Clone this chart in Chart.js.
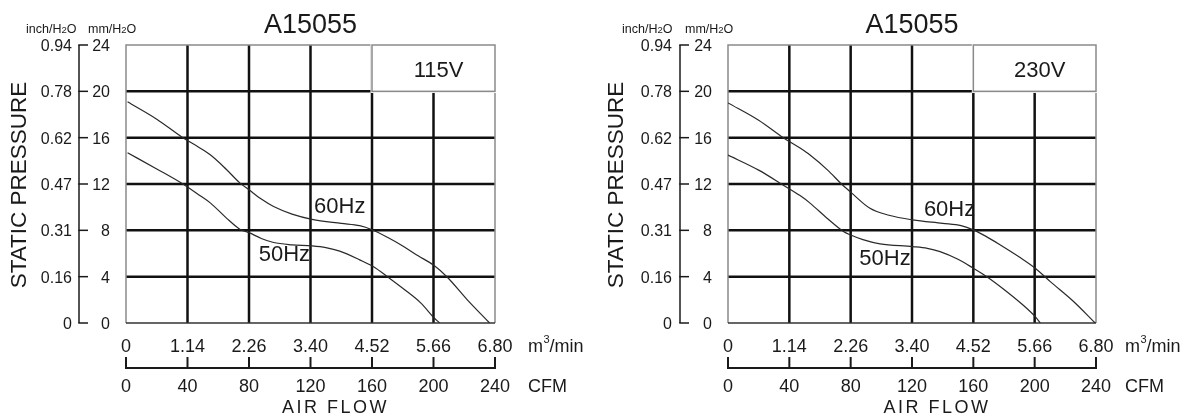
<!DOCTYPE html>
<html><head><meta charset="utf-8">
<script src="https://cdn.jsdelivr.net/npm/chart.js@4/dist/chart.umd.min.js"></script>
<style>
html,body{margin:0;padding:0;background:#fff;}
#wrap{position:relative;width:1200px;height:418px;overflow:hidden;}
.c{position:absolute;top:0;width:600px;height:418px;}
</style></head>
<body><div id="wrap"><div class="c" style="left:0"><canvas id="c1" width="600" height="418"></canvas></div><div class="c" style="left:600px"><canvas id="c2" width="600" height="418"></canvas></div></div>
<script>
const chartTitle = 'A15055';
const voltages = ['115V', '230V'];
const seriesNames = ['60Hz', '50Hz'];
const cfmTicks = [0, 40, 80, 120, 160, 200, 240];
const m3Labels = ['0', '1.14', '2.26', '3.40', '4.52', '5.66', '6.80'];
const mmTicks = [0, 4, 8, 12, 16, 20, 24];
const inchLabels = ['0', '0.16', '0.31', '0.47', '0.62', '0.78', '0.94'];

// 115V chart (CFM, mmH2O)
const flow60_115 = [1, 20, 37, 47, 55, 65, 74, 80, 88, 96, 108, 121, 140, 152, 160, 170, 180, 190, 200, 209, 222, 236.5];
const press60_115 = [19.1, 17.6, 16.0, 15.2, 14.5, 13.3, 12.1, 11.5, 10.7, 10.05, 9.4, 8.95, 8.6, 8.4, 8.05, 7.4, 6.65, 5.8, 5.0, 3.95, 2.0, 0];
const flow50_115 = [1, 20, 37, 47, 55, 65, 74, 80, 88, 96, 108, 121, 130, 139, 152, 161, 170, 180, 192, 200, 204];
const press50_115 = [14.7, 13.3, 12.0, 11.1, 10.35, 9.1, 8.1, 7.8, 7.3, 6.95, 6.75, 6.65, 6.5, 6.2, 5.45, 4.85, 4.0, 3.0, 1.7, 0.5, 0];
// 230V chart
const flow60_230 = [0, 20, 36, 47, 53.5, 65, 74, 80, 92.6, 105, 120.5, 140, 152, 160, 168, 177.6, 190, 200.4, 210.2, 225, 239.5];
const press60_230 = [19.0, 17.5, 16.0, 15.1, 14.5, 13.2, 12.0, 11.3, 9.9, 9.3, 8.9, 8.6, 8.4, 8.04, 7.5, 6.74, 5.7, 4.73, 3.57, 1.9, 0];
const flow50_230 = [0, 20, 36.1, 47, 53.5, 65, 75.3, 80, 88, 99.2, 120.5, 130, 138.3, 150, 160, 168.8, 180, 192, 200.4, 203.7];
const press50_230 = [14.5, 13.2, 11.9, 11.0, 10.35, 9.0, 7.9, 7.6, 7.2, 6.83, 6.6, 6.45, 6.16, 5.5, 4.73, 4.0, 2.9, 1.6, 0.55, 0];

const FONT = '"Liberation Sans", Arial, Helvetica, sans-serif';
const TXT = '#1a1a1a';

function pts(xs, ys) { return xs.map((v, i) => ({x: v, y: ys[i]})); }

const fanPlugin = {
  id: 'fanPlugin',
  beforeDatasetsDraw(chart, args, o) {
    const {ctx, scales: {x, y}} = chart;
    const L = x.getPixelForValue(0), R = x.getPixelForValue(240);
    const T = y.getPixelForValue(24), B = y.getPixelForValue(0);
    ctx.save();
    ctx.strokeStyle = '#111'; ctx.lineWidth = 2.5;
    cfmTicks.forEach(v => {
      if (v === 0 || v === 240) return;
      const px = x.getPixelForValue(v);
      ctx.beginPath(); ctx.moveTo(px, T); ctx.lineTo(px, B); ctx.stroke();
    });
    mmTicks.forEach(v => {
      if (v === 0 || v === 24) return;
      const py = y.getPixelForValue(v);
      ctx.beginPath(); ctx.moveTo(L, py); ctx.lineTo(R, py); ctx.stroke();
    });
    ctx.strokeStyle = '#8a8a8a'; ctx.lineWidth = 1.5;
    ctx.beginPath(); ctx.moveTo(L, B); ctx.lineTo(L, T); ctx.lineTo(R, T); ctx.lineTo(R, B); ctx.stroke();
    ctx.strokeStyle = '#333'; ctx.lineWidth = 1.3;
    ctx.beginPath(); ctx.moveTo(L, B); ctx.lineTo(R, B); ctx.stroke();
    ctx.restore();
  },
  afterDatasetsDraw(chart, args, o) {
    const {ctx, scales: {x, y}} = chart;
    const bx1 = x.getPixelForValue(160), bx2 = x.getPixelForValue(240);
    const by1 = y.getPixelForValue(24), by2 = y.getPixelForValue(20);
    ctx.save();
    ctx.fillStyle = '#fff';
    ctx.fillRect(bx1 - 1.5, by1 - 1, bx2 - bx1 + 2.5, by2 - by1 + 2.6);
    ctx.strokeStyle = '#8a8a8a'; ctx.lineWidth = 1.5;
    ctx.strokeRect(bx1, by1, bx2 - bx1, by2 - by1);
    ctx.fillStyle = TXT;
    ctx.font = '22px ' + FONT;
    ctx.textAlign = 'center'; ctx.textBaseline = 'middle';
    ctx.fillText(o.voltage, (bx1 + bx2) / 2 + 5, (by1 + by2) / 2 + 3);
    o.seriesLabels.forEach((s, i) => {
      ctx.fillText(seriesNames[i], x.getPixelForValue(s[0]), y.getPixelForValue(s[1]));
    });
    ctx.restore();
  },
  afterDraw(chart, args, o) {
    const {ctx, scales: {x, y}} = chart;
    const L = x.getPixelForValue(0), R = x.getPixelForValue(240);
    const T = y.getPixelForValue(24), B = y.getPixelForValue(0);
    ctx.save();
    ctx.fillStyle = TXT; ctx.strokeStyle = '#1a1a1a';
    ctx.font = '27px ' + FONT; ctx.textAlign = 'center'; ctx.textBaseline = 'middle';
    ctx.fillText(chartTitle, (L + R) / 2, 26);
    function h2o(prefix, x0, yb) {
      ctx.textAlign = 'left'; ctx.textBaseline = 'alphabetic';
      ctx.font = '12.5px ' + FONT;
      ctx.fillText(prefix + 'H', x0, yb);
      let w = ctx.measureText(prefix + 'H').width;
      ctx.font = '9.5px ' + FONT;
      ctx.fillText('2', x0 + w, yb);
      w += ctx.measureText('2').width;
      ctx.font = '12.5px ' + FONT;
      ctx.fillText('O', x0 + w, yb);
    }
    h2o('inch/', o.inchUnitX, 33);
    h2o('mm/', o.mmUnitX, 33);
    ctx.lineWidth = 1.5;
    ctx.beginPath(); ctx.moveTo(o.axisX, T); ctx.lineTo(o.axisX, B); ctx.stroke();
    ctx.font = '16px ' + FONT; ctx.textBaseline = 'middle'; ctx.textAlign = 'right';
    mmTicks.forEach((v, i) => {
      const py = y.getPixelForValue(v);
      ctx.beginPath(); ctx.moveTo(o.axisX - 0.75, py); ctx.lineTo(o.axisX + 9, py); ctx.stroke();
      ctx.fillText(String(v), o.mmRight, py + 1.5);
      ctx.fillText(inchLabels[i], o.inchRight, py + 1.5);
    });
    ctx.save();
    ctx.translate(o.statX, (T + B) / 2 + 1);
    ctx.rotate(-Math.PI / 2);
    ctx.font = '22.5px ' + FONT; ctx.textAlign = 'center'; ctx.textBaseline = 'middle';
    ctx.fillText('STATIC PRESSURE', 0, 0);
    ctx.restore();
    ctx.font = '18px ' + FONT; ctx.textAlign = 'center'; ctx.textBaseline = 'middle';
    cfmTicks.forEach((v, i) => {
      ctx.fillText(m3Labels[i], x.getPixelForValue(v), 347);
    });
    const ay = 368;
    ctx.lineWidth = 2;
    ctx.beginPath(); ctx.moveTo(L - 1, ay); ctx.lineTo(R + 1, ay); ctx.stroke();
    cfmTicks.forEach((v, i) => {
      const px = x.getPixelForValue(v);
      ctx.beginPath(); ctx.moveTo(px, ay); ctx.lineTo(px, ay - 11); ctx.stroke();
      ctx.fillText(String(v), px, 387);
    });
    ctx.textAlign = 'left';
    ctx.fillText('m', o.unitX, 347);
    let w = ctx.measureText('m').width;
    ctx.font = '11px ' + FONT;
    ctx.fillText('3', o.unitX + w + 0.5, 340);
    w += ctx.measureText('3').width + 0.5;
    ctx.font = '18px ' + FONT;
    ctx.fillText('/min', o.unitX + w, 347);
    ctx.fillText('CFM', o.unitX, 387);
    ctx.textAlign = 'center';
    if ('letterSpacing' in ctx) ctx.letterSpacing = '2.5px';
    ctx.fillText('AIR FLOW', (L + R) / 2 + 25, 408);
    ctx.restore();
  }
};

function makeChart(id, f60, p60, f50, p50, pad, opts) {
  return new Chart(document.getElementById(id), {
    type: 'line',
    data: {
      datasets: [
        {label: seriesNames[0], data: pts(f60, p60), borderColor: '#2a2a2a', borderWidth: 1.2, pointRadius: 0, cubicInterpolationMode: 'monotone', fill: false},
        {label: seriesNames[1], data: pts(f50, p50), borderColor: '#2a2a2a', borderWidth: 1.2, pointRadius: 0, cubicInterpolationMode: 'monotone', fill: false}
      ]
    },
    options: {
      responsive: false, animation: false, devicePixelRatio: 1,
      layout: {padding: pad},
      scales: {
        x: {type: 'linear', min: 0, max: 240, display: false},
        y: {type: 'linear', min: 0, max: 24, display: false}
      },
      plugins: {legend: {display: false}, tooltip: {enabled: false}, fanPlugin: opts}
    },
    plugins: [fanPlugin]
  });
}

makeChart('c1', flow60_115, press60_115, flow50_115, press50_115,
  {left: 126, right: 105, top: 45, bottom: 95},
  {voltage: voltages[0], seriesLabels: [[139, 10.0], [103, 5.9]], axisX: 79, mmRight: 110, inchRight: 72, statX: 20, inchUnitX: 26, mmUnitX: 88, unitX: 528});
makeChart('c2', flow60_230, press60_230, flow50_230, press50_230,
  {left: 128, right: 104, top: 45, bottom: 95},
  {voltage: voltages[1], seriesLabels: [[144.5, 9.8], [102.4, 5.5]], axisX: 80, mmRight: 112, inchRight: 72, statX: 17, inchUnitX: 22, mmUnitX: 85, unitX: 525});
</script>
</body></html>
